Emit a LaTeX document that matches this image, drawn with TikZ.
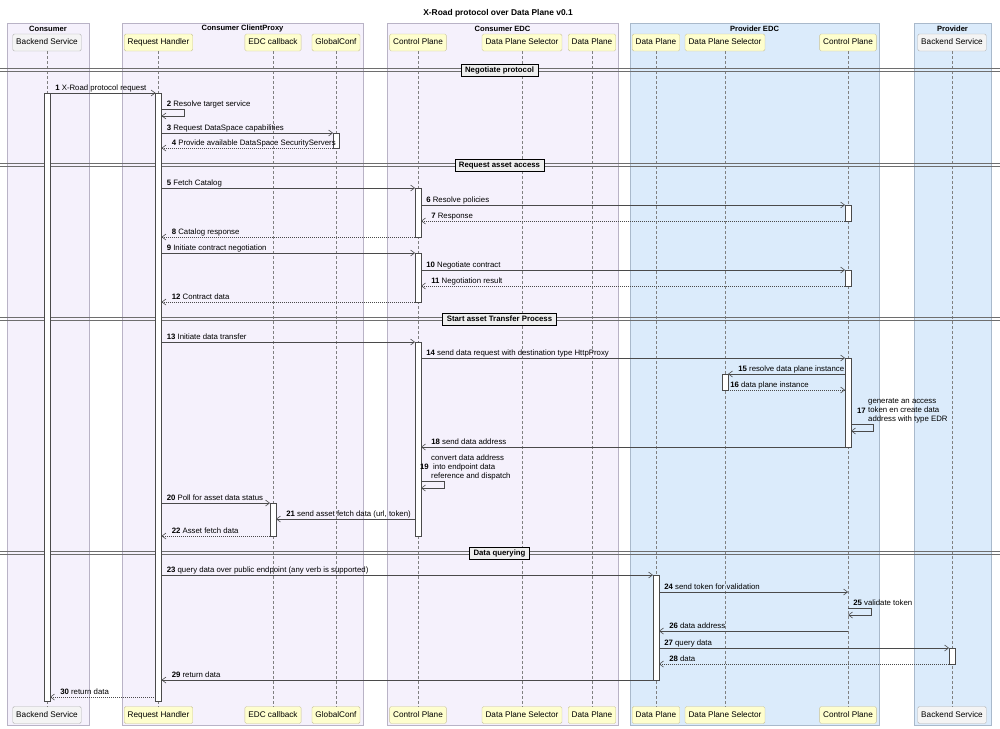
\documentclass[tikz,border=0pt]{standalone}
\usepackage{fontspec}
\setmainfont{Liberation Sans}
\usetikzlibrary{arrows.meta}

\definecolor{consumerbg}{HTML}{F5F1FC}
\definecolor{consumerln}{HTML}{B9B3C6}
\definecolor{providerbg}{HTML}{DBEBFB}
\definecolor{providerln}{HTML}{A9B9CB}
\definecolor{partbg}{HTML}{FEFECE}
\definecolor{partln}{HTML}{C9C39A}
\definecolor{extbg}{HTML}{F4F4F4}
\definecolor{extln}{HTML}{B4B4B4}
\definecolor{ink}{HTML}{4A4A4A}
\definecolor{sepbg}{HTML}{EEEEEE}

\begin{document}
\begin{tikzpicture}[
  x=1pt, y=-1pt,
  every node/.style={font=\fontsize{7.8}{9}\selectfont},
  grp/.style={line width=0.8pt},
  grptitle/.style={font=\bfseries\fontsize{7.6}{9}\selectfont, inner sep=0pt},
  part/.style={draw=partln, fill=partbg, rounded corners=1.5pt, minimum height=17pt,
    text height=6pt, text depth=1.8pt,
    inner xsep=3.5pt, inner ysep=0pt, font=\fontsize{8.2}{9}\selectfont},
  ext/.style={part, draw=extln, fill=extbg},
  lifeline/.style={draw=ink!70, dash pattern=on 3pt off 2pt, line width=0.5pt},
  actbar/.style={draw=ink, fill=white, line width=0.6pt},
  call/.style={draw=ink, line width=0.6pt, -{Straight Barb[length=4pt,width=6pt]}},
  reply/.style={call, dash pattern=on 1pt off 1pt},
  lbl/.style={anchor=base west, inner sep=0pt, xshift=5pt, yshift=2.5pt},
  back/.style={lbl, xshift=5pt},
  sepline/.style={draw=ink!80, line width=0.7pt},
  seplabel/.style={draw=black, fill=sepbg, line width=0.8pt, inner xsep=4pt, inner ysep=2pt,
    text height=6pt, text depth=1.8pt, font=\bfseries\fontsize{7.8}{9}\selectfont}
]
\useasboundingbox (0,0) rectangle (1000,728);

% boxes
\draw[grp, draw=consumerln, fill=consumerbg] (7,23) rectangle (89,725);
\draw[grp, draw=consumerln, fill=consumerbg] (122,23) rectangle (363,725);
\draw[grp, draw=consumerln, fill=consumerbg] (387,23) rectangle (618,725);
\draw[grp, draw=providerln, fill=providerbg] (630,23) rectangle (879,725);
\draw[grp, draw=providerln, fill=providerbg] (914,23) rectangle (991,725);
\node[grptitle] (consumer) at (48,29) {Consumer};
\node[grptitle] (proxy) at (242.5,29) {Consumer ClientProxy};
\node[grptitle] (cedc) at (502.5,29) {Consumer EDC};
\node[grptitle] (pedc) at (754.5,29) {Provider EDC};
\node[grptitle] (provider) at (952.5,29) {Provider};

\node[font=\bfseries\fontsize{8.4}{10}\selectfont] (title) at (498,13) {X-Road protocol over Data Plane v0.1};

% participants
\foreach \id/\x in {cbs/47, pbs/952} {
  \node[ext] (\id) at (\x,42.5) {Backend Service};
  \node[ext] (\id-end) at (\x,715) {Backend Service};
  \draw[lifeline] (\id.south) -- (\id-end.north);
}
\foreach \id/\x/\txt in {rh/158.5/Request Handler, cbk/273/EDC callback, gconf/336/GlobalConf,
    ccp/418/Control Plane, cdps/522/Data Plane Selector, cdp/592/Data Plane,
    pdp/656/Data Plane, pdps/725/Data Plane Selector, pcp/848/Control Plane} {
  \node[part] (\id) at (\x,42.5) {\txt};
  \node[part] (\id-end) at (\x,715) {\txt};
  \draw[lifeline] (\id.south) -- (\id-end.north);
}

% separators
\foreach \y/\txt/\nm in {70/Negotiate protocol/sep1, 165/Request asset access/sep2,
    319/Start asset Transfer Process/sep3, 553/Data querying/sep4} {
  \draw[sepline] (0,\y-1.5) -- (1000,\y-1.5) (0,\y+1.5) -- (1000,\y+1.5);
  \node[seplabel] (\nm) at (499.5,\y) {\txt};
}

% activations
\foreach \id/\a/\b in {cbs/93/701, rh/93/701, gconf/133/148, ccp/188/237, ccp/253/302,
    ccp/342/536, pcp/205/221, pcp/270/286, pcp/358/447, pdps/374/390, cbk/503/536,
    pdp/575/680, pbs/648/664}
  \draw[actbar] ([xshift=-3pt]\id |- 0,\a) rectangle ([xshift=3pt]\id |- 0,\b);

% negotiate protocol
\draw[call] ([xshift=3pt]cbs |- 0,93) node[lbl]{\textbf{1} X-Road protocol request} -- ([xshift=-3pt]rh |- 0,93);
\draw[call] ([xshift=3pt]rh |- 0,109) node[lbl]{\textbf{2} Resolve target service} -- ++(23,0) -- ++(0,7) -- ++(-23,0);
\draw[call] ([xshift=3pt]rh |- 0,133) node[lbl]{\textbf{3} Request DataSpace capabilities} -- ([xshift=-3pt]gconf |- 0,133);
\draw[reply] ([xshift=-3pt]gconf |- 0,148) -- ([xshift=3pt]rh |- 0,148) node[back]{\textbf{4} Provide available DataSpace SecurityServers};

% request asset access
\draw[call] ([xshift=3pt]rh |- 0,188) node[lbl]{\textbf{5} Fetch Catalog} -- ([xshift=-3pt]ccp |- 0,188);
\draw[call] ([xshift=3pt]ccp |- 0,205) node[lbl]{\textbf{6} Resolve policies} -- ([xshift=-3pt]pcp |- 0,205);
\draw[reply] ([xshift=-3pt]pcp |- 0,221) -- ([xshift=3pt]ccp |- 0,221) node[back]{\textbf{7} Response};
\draw[reply] ([xshift=-3pt]ccp |- 0,237) -- ([xshift=3pt]rh |- 0,237) node[back]{\textbf{8} Catalog response};
\draw[call] ([xshift=3pt]rh |- 0,253) node[lbl]{\textbf{9} Initiate contract negotiation} -- ([xshift=-3pt]ccp |- 0,253);
\draw[call] ([xshift=3pt]ccp |- 0,270) node[lbl]{\textbf{10} Negotiate contract} -- ([xshift=-3pt]pcp |- 0,270);
\draw[reply] ([xshift=-3pt]pcp |- 0,286) -- ([xshift=3pt]ccp |- 0,286) node[back]{\textbf{11} Negotiation result};
\draw[reply] ([xshift=-3pt]ccp |- 0,302) -- ([xshift=3pt]rh |- 0,302) node[back]{\textbf{12} Contract data};

% transfer process
\draw[call] ([xshift=3pt]rh |- 0,342) node[lbl]{\textbf{13} Initiate data transfer} -- ([xshift=-3pt]ccp |- 0,342);
\draw[call] ([xshift=3pt]ccp |- 0,358) node[lbl]{\textbf{14} send data request with destination type HttpProxy} -- ([xshift=-3pt]pcp |- 0,358);
\draw[call] ([xshift=-3pt]pcp |- 0,374) -- ([xshift=3pt]pdps |- 0,374) node[back]{\textbf{15} resolve data plane instance};
\draw[reply] ([xshift=3pt]pdps |- 0,390) node[lbl, xshift=-3pt]{\textbf{16} data plane instance} -- ([xshift=-3pt]pcp |- 0,390);
\node[anchor=west, align=left, inner sep=0pt] (t17) at (868,411) {generate an access\\token en create data\\address with type EDR};
\node[anchor=east, inner sep=0pt, xshift=-2pt] (n17) at (t17.west) {\textbf{17}};
\draw[call] ([xshift=3pt]pcp |- 0,424) -- ++(22,0) -- ++(0,7) -- ++(-22,0);
\draw[call] ([xshift=-3pt]pcp |- 0,447) -- ([xshift=3pt]ccp |- 0,447) node[back]{\textbf{18} send data address};
\node[anchor=west, align=left, inner sep=0pt] (t19) at (431,467) {convert data address\\\hspace{2pt}into endpoint data\\reference and dispatch};
\node[anchor=east, inner sep=0pt, xshift=-2pt] (n19) at (t19.west) {\textbf{19}};
\draw[call] ([xshift=3pt]ccp |- 0,481) -- ++(23,0) -- ++(0,7) -- ++(-23,0);
\draw[call] ([xshift=3pt]rh |- 0,503) node[lbl]{\textbf{20} Poll for asset data status} -- ([xshift=-3pt]cbk |- 0,503);
\draw[call] ([xshift=-3pt]ccp |- 0,519) -- ([xshift=3pt]cbk |- 0,519) node[back]{\textbf{21} send asset fetch data (url, token)};
\draw[reply] ([xshift=-3pt]cbk |- 0,536) -- ([xshift=3pt]rh |- 0,536) node[back]{\textbf{22} Asset fetch data};

% data querying
\draw[call] ([xshift=3pt]rh |- 0,575) node[lbl]{\textbf{23} query data over public endpoint (any verb is supported)} -- ([xshift=-3pt]pdp |- 0,575);
\draw[call] ([xshift=3pt]pdp |- 0,592) node[lbl]{\textbf{24} send token for validation} -- (pcp |- 0,592);
\draw[call] (pcp |- 0,608) node[lbl]{\textbf{25} validate token} -- ++(23,0) -- ++(0,7) -- ++(-23,0);
\draw[call] (pcp |- 0,631) -- ([xshift=3pt]pdp |- 0,631) node[back]{\textbf{26} data address};
\draw[call] ([xshift=3pt]pdp |- 0,648) node[lbl]{\textbf{27} query data} -- ([xshift=-3pt]pbs |- 0,648);
\draw[reply] ([xshift=-3pt]pbs |- 0,664) -- ([xshift=3pt]pdp |- 0,664) node[back]{\textbf{28} data};
\draw[call] ([xshift=-3pt]pdp |- 0,680) -- ([xshift=3pt]rh |- 0,680) node[back]{\textbf{29} return data};
\draw[reply] ([xshift=-3pt]rh |- 0,697) -- ([xshift=3pt]cbs |- 0,697) node[back]{\textbf{30} return data};
\end{tikzpicture}
\end{document}
